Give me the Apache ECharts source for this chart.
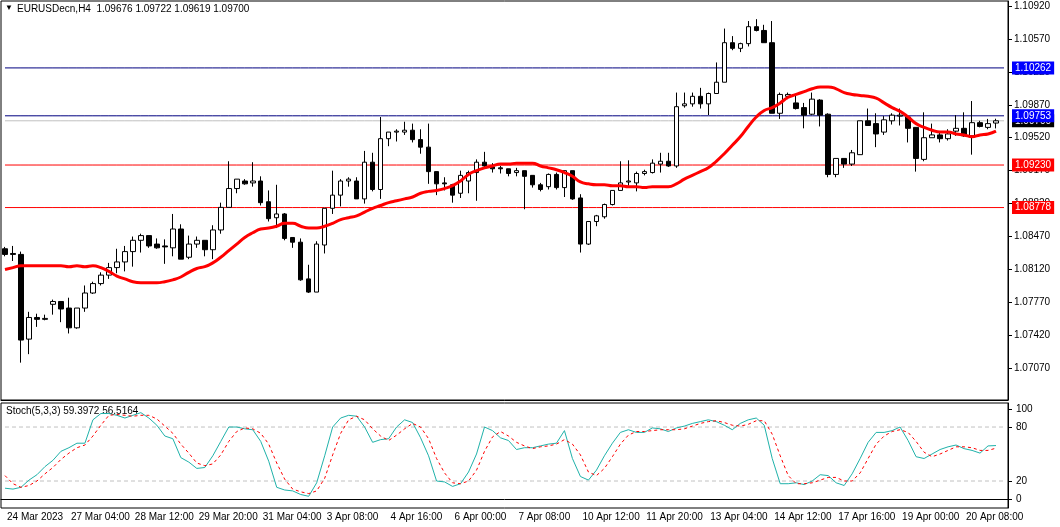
<!DOCTYPE html>
<html>
<head>
<meta charset="utf-8">
<script src="https://cdn.jsdelivr.net/npm/echarts@6/dist/echarts.min.js"></script>
<style>
  html, body { margin: 0; padding: 0; background: #fff; }
  #chart { width: 1060px; height: 527px; }
</style>
</head>
<body>
<div id="chart"></div>
<script>
// H4 candles
const opens = [1.0834,1.0829,1.0828,1.0738,1.0761,1.0759,1.0775,1.0778,1.0771,1.0750,1.0771,1.0787,1.0797,1.0806,1.0814,1.0820,1.0831,1.0843,1.0848,1.0839,1.0837,1.0835,1.0855,1.0825,1.0839,1.0843,1.0833,1.0854,1.0878,1.0898,1.0906,1.0904,1.0906,1.0884,1.0867,1.0871,1.0846,1.0841,1.0802,1.0788,1.0838,1.0877,1.0891,1.0906,1.0906,1.0887,1.0926,1.0897,1.0951,1.0958,1.0958,1.0960,1.0950,1.0942,1.0916,1.0904,1.0902,1.0893,1.0906,1.0915,1.0926,1.0921,1.0920,1.0919,1.0915,1.0917,1.0912,1.0902,1.0900,1.0913,1.0899,1.0917,1.0888,1.0839,1.0863,1.0868,1.0881,1.0896,1.0905,1.0904,1.0914,1.0915,1.0924,1.0927,1.0922,1.0986,1.0988,1.0996,1.0988,1.0999,1.1011,1.1053,1.1047,1.1052,1.1070,1.1066,1.1053,1.0978,1.0996,1.0989,1.0984,1.0977,1.0992,1.0977,1.0913,1.0930,1.0924,1.0934,1.0970,1.0967,1.0958,1.0970,1.0975,1.0974,1.0963,1.0929,1.0952,1.0955,1.0951,1.0959,1.0962,1.0954,1.0968,1.0963,1.09676];
const closes = [1.0828,1.0828,1.0737,1.0761,1.0759,1.0760,1.0778,1.0770,1.0750,1.0771,1.0787,1.0797,1.0806,1.0814,1.0820,1.0831,1.0843,1.0848,1.0837,1.0835,1.0836,1.0855,1.0823,1.0839,1.0843,1.0833,1.0854,1.0878,1.0898,1.0908,1.0903,1.0906,1.0883,1.0866,1.0871,1.0845,1.0841,1.0801,1.0788,1.0839,1.0877,1.0891,1.0906,1.0908,1.0887,1.0926,1.0897,1.0951,1.0958,1.0959,1.0960,1.0950,1.0942,1.0916,1.0903,1.0903,1.0891,1.0912,1.0915,1.0926,1.0922,1.0919,1.0919,1.0914,1.0917,1.0911,1.0902,1.0897,1.0913,1.0899,1.0917,1.0887,1.0839,1.0863,1.0869,1.0881,1.0896,1.0904,1.0906,1.0914,1.0916,1.0925,1.0927,1.0922,1.0985,1.0988,1.0996,1.0988,1.0999,1.1011,1.1053,1.1047,1.1052,1.1070,1.1066,1.1053,1.0978,1.0998,1.0998,1.0983,1.0976,1.0993,1.0976,1.0913,1.0930,1.0924,1.0936,1.0970,1.0965,1.0956,1.0971,1.0976,1.0976,1.0962,1.0930,1.0952,1.0955,1.0951,1.0956,1.0962,1.0954,1.0968,1.0964,1.0967,1.09700];
const lows = [1.0826,1.0821,1.0713,1.0722,1.0751,1.0758,1.0764,1.0756,1.0744,1.0749,1.0767,1.0786,1.0795,1.0802,1.0808,1.0810,1.0815,1.0830,1.0835,1.0834,1.0818,1.0826,1.0823,1.0823,1.0835,1.0826,1.0823,1.0850,1.0878,1.0893,1.0902,1.0900,1.0880,1.0863,1.0856,1.0843,1.0835,1.0800,1.0787,1.0788,1.0829,1.0871,1.0879,1.0900,1.0887,1.0882,1.0895,1.0887,1.0943,1.0948,1.0955,1.0947,1.0935,1.0903,1.0891,1.0896,1.0883,1.0888,1.0893,1.0885,1.0920,1.0915,1.0914,1.0911,1.0911,1.0876,1.0899,1.0895,1.0897,1.0897,1.0889,1.0886,1.0830,1.0838,1.0858,1.0866,1.0880,1.0896,1.0901,1.0895,1.0912,1.0914,1.0915,1.0921,1.0920,1.0984,1.0985,1.0983,1.0976,1.0999,1.1011,1.1045,1.1043,1.1049,1.1065,1.1053,1.0978,1.0972,1.0993,1.0982,1.0962,1.0976,1.0964,1.0910,1.0910,1.0920,1.0922,1.0934,1.0965,1.0942,1.0955,1.0966,1.0965,1.0947,1.0916,1.0927,1.0952,1.0947,1.0949,1.0954,1.0953,1.0934,1.0963,1.0961,1.09619];
const highs = [1.0836,1.0837,1.0831,1.0767,1.0765,1.0764,1.0780,1.0778,1.0782,1.0771,1.0795,1.0799,1.0809,1.0819,1.0834,1.0837,1.0847,1.0850,1.0848,1.0845,1.0844,1.0871,1.0860,1.0848,1.0847,1.0843,1.0859,1.0883,1.0927,1.0908,1.0908,1.0926,1.0911,1.0896,1.0902,1.0872,1.0846,1.0845,1.0817,1.0842,1.0877,1.0917,1.0908,1.0910,1.0910,1.0938,1.0936,1.0974,1.0958,1.0961,1.0969,1.0967,1.0961,1.0967,1.0916,1.0910,1.0903,1.0917,1.0917,1.0929,1.0937,1.0925,1.0922,1.0919,1.0920,1.0917,1.0912,1.0904,1.0914,1.0915,1.0917,1.0917,1.0892,1.0863,1.0870,1.0882,1.0896,1.0927,1.0928,1.0916,1.0918,1.0929,1.0936,1.0936,1.1000,1.1000,1.1000,1.1005,1.1000,1.1032,1.1068,1.1060,1.1053,1.1076,1.1078,1.1072,1.1076,1.1000,1.1000,1.0998,1.0989,1.1000,1.0993,1.0978,1.0930,1.0930,1.0939,1.0970,1.0983,1.0978,1.0975,1.0978,1.0983,1.0974,1.0963,1.0979,1.0967,1.0958,1.0961,1.0976,1.0979,1.0991,1.0970,1.0972,1.09722];
// red moving average, as drawn
const maValues = [1.0812,1.0814,1.0816,1.0816,1.0816,1.0816,1.0816,1.0816,1.0815,1.0816,1.0815,1.0816,1.0814,1.0810,1.0805,1.0802,1.0799,1.0798,1.0798,1.0798,1.0799,1.0801,1.0804,1.0809,1.0813,1.0815,1.0819,1.0825,1.0832,1.0839,1.0846,1.0851,1.0855,1.0856,1.0858,1.0861,1.0861,1.0858,1.0856,1.0856,1.0858,1.0861,1.0865,1.0867,1.0869,1.0873,1.0877,1.0880,1.0883,1.0885,1.0887,1.0889,1.0893,1.0895,1.0896,1.0898,1.0901,1.0906,1.0913,1.0917,1.0920,1.0922,1.0924,1.0924,1.0925,1.0925,1.0925,1.0922,1.0920,1.0918,1.0915,1.0911,1.0905,1.0903,1.0902,1.0902,1.0901,1.0901,1.0900,1.0900,1.0899,1.0900,1.0900,1.0900,1.0903,1.0908,1.0912,1.0916,1.0920,1.0927,1.0935,1.0944,1.0953,1.0964,1.0974,1.0981,1.0984,1.0989,1.0995,1.0998,1.1001,1.1004,1.1006,1.1006,1.1004,1.1000,1.0998,1.0997,1.0996,1.0994,1.0989,1.0984,1.0980,1.0974,1.0967,1.0963,1.0960,1.0958,1.0958,1.0956,1.0955,1.0953,1.0955,1.0956,1.0959];
// Stoch(5,3,3)
const stochK = [12,11,13,21,27,36,43,53,57,62,62,88,95,95,93,90,93,96,90,82,70,67,46,41,34,35,48,64,80,80,78,77,64,42,13,10,9,5,3,18,48,80,90,93,92,80,63,66,67,80,88,85,68,48,20,19,14,17,30,50,80,76,68,65,55,57,57,59,61,62,76,45,25,21,32,48,62,74,77,74,74,79,78,75,79,81,84,86,88,86,82,77,84,88,90,82,45,17,17,18,16,20,27,26,18,15,28,45,63,74,74,76,80,65,47,45,50,55,58,60,56,54,51,59,59.4];
const stochD = [26,17,13,15,20,28,35,44,51,57,60,70,82,93,94,93,92,93,93,89,81,73,61,51,40,37,39,49,64,75,79,78,73,61,40,22,11,8,6,9,23,49,73,88,92,88,78,70,65,71,78,84,80,67,45,29,18,17,20,32,53,69,75,70,63,59,56,58,59,61,66,61,49,30,26,34,47,61,71,75,75,76,77,77,77,78,81,84,86,87,85,82,81,83,87,87,72,48,26,17,17,18,21,24,24,20,20,29,45,61,70,75,77,74,64,52,47,50,54,58,58,57,54,54,56.5];
const tickLabels = ['24 Mar 2023','27 Mar 04:00','28 Mar 12:00','29 Mar 20:00','31 Mar 04:00','3 Apr 08:00','4 Apr 16:00','6 Apr 00:00','7 Apr 08:00','10 Apr 12:00','11 Apr 20:00','13 Apr 04:00','14 Apr 12:00','17 Apr 16:00','19 Apr 00:00','20 Apr 08:00'];
const priceTicks = [1.07070,1.07420,1.07770,1.08120,1.08470,1.08820,1.09170,1.09520,1.09870,1.10220,1.10570,1.10920];
const stochTicks = [0,20,80,100];
const stochLevels = [20, 80];
// horizontal levels: [price, label background, line colour]
const levels = [
  [1.09700, '#000000', '#c0c0c0'],
  [1.10262, '#0000ff', '#000080'],
  [1.09753, '#0000ff', '#000080'],
  [1.09230, '#ff0000', '#ff0000'],
  [1.08778, '#ff0000', '#ff0000']
];

const FONT = 'Liberation Sans';
const categories = [];
for (let i = 0; i <= opens.length; i++) categories.push(i % 8 === 0 ? (tickLabels[i / 8] || '') : '');
const candles = opens.map((o, i) => [o, closes[i], lows[i], highs[i]]);

// each level is a flat line across all categories with a price box at its end
const levelSeries = levels.map(([v, bg, line]) => ({
  type: 'line', xAxisIndex: 0, yAxisIndex: 0, data: categories.map(() => v),
  color: line, showSymbol: false, silent: true, z: 1, emphasis: { disabled: true },
  lineStyle: { color: line, width: 1, opacity: 1 },
  endLabel: { show: true, formatter: v.toFixed(5), color: '#fff', backgroundColor: bg,
    padding: [2, 3, 1, 3], fontFamily: FONT, fontSize: 10, distance: 8 }
}));
const stochLevelSeries = stochLevels.map(v => ({
  type: 'line', xAxisIndex: 1, yAxisIndex: 1, data: categories.map(() => v),
  color: '#c0c0c0', showSymbol: false, silent: true, z: 1, emphasis: { disabled: true },
  lineStyle: { color: '#c0c0c0', width: 1, type: [4, 3] }
}));

const chart = echarts.init(document.getElementById('chart'), null, { renderer: 'canvas' });
chart.setOption({
  animation: false,
  backgroundColor: '#fff',
  textStyle: { fontFamily: FONT },
  grid: [
    { left: 1, right: 52, top: 1, height: 399, show: true, borderColor: '#000', borderWidth: 1 },
    { left: 1, right: 52, top: 403, bottom: 19, show: true, borderColor: '#000', borderWidth: 1 }
  ],
  xAxis: [
    { type: 'category', gridIndex: 0, data: categories, boundaryGap: true,
      axisLine: { lineStyle: { color: '#000' } }, axisTick: { show: false }, axisLabel: { show: false } },
    { type: 'category', gridIndex: 1, data: categories, boundaryGap: true,
      axisLine: { lineStyle: { color: '#000' } },
      axisTick: { alignWithLabel: true, interval: 7, length: 4, lineStyle: { color: '#000' } },
      axisLabel: { interval: 7, align: 'left', color: '#000', fontSize: 10, margin: 4, fontFamily: FONT, padding: [0, 0, 0, 2] } }
  ],
  yAxis: [
    { type: 'value', gridIndex: 0, position: 'right', min: 1.06733, max: 1.10973,
      axisLine: { show: true, lineStyle: { color: '#000' } },
      axisTick: { show: true, length: 4, customValues: priceTicks, lineStyle: { color: '#000' } },
      splitLine: { show: false },
      axisLabel: { color: '#000', fontSize: 10, margin: 6, fontFamily: FONT, customValues: priceTicks,
        formatter: v => v.toFixed(5) } },
    { type: 'value', gridIndex: 1, position: 'right', min: -10, max: 106.7,
      axisLine: { show: true, lineStyle: { color: '#000' } },
      axisTick: { show: true, length: 4, customValues: stochTicks, lineStyle: { color: '#000' } },
      splitLine: { show: false },
      axisLabel: { color: '#000', fontSize: 10, margin: 8, fontFamily: FONT, customValues: stochTicks } }
  ],
  series: levelSeries.concat(stochLevelSeries, [
    { type: 'candlestick', xAxisIndex: 0, yAxisIndex: 0, data: candles, barWidth: 5, z: 2,
      itemStyle: { color: '#fff', color0: '#000', borderColor: '#000', borderColor0: '#000', borderWidth: 1 } },
    { type: 'line', xAxisIndex: 0, yAxisIndex: 0, data: maValues, showSymbol: false, smooth: true,
      color: '#ff0000', lineStyle: { color: '#ff0000', width: 3 }, z: 3 },
    { type: 'line', xAxisIndex: 1, yAxisIndex: 1, data: stochK, showSymbol: false,
      color: '#20b2aa', lineStyle: { color: '#20b2aa', width: 1 }, z: 3 },
    { type: 'line', xAxisIndex: 1, yAxisIndex: 1, data: stochD, showSymbol: false,
      color: '#ff0000', lineStyle: { color: '#ff0000', width: 1, type: [3, 3] }, z: 3 }
  ]),
  graphic: [
    { type: 'text', left: 5, top: 4, style: { text: '▼', fontSize: 8, fill: '#000' } },
    { type: 'text', left: 17, top: 4, style: { text: 'EURUSDecn,H4  1.09676 1.09722 1.09619 1.09700',
      font: '10px "Liberation Sans"', fill: '#000' } },
    { type: 'text', left: 6, top: 406, style: { text: 'Stoch(5,3,3) 59.3972 56.5164',
      font: '10px "Liberation Sans"', fill: '#000' } }
  ]
});
</script>
</body>
</html>
